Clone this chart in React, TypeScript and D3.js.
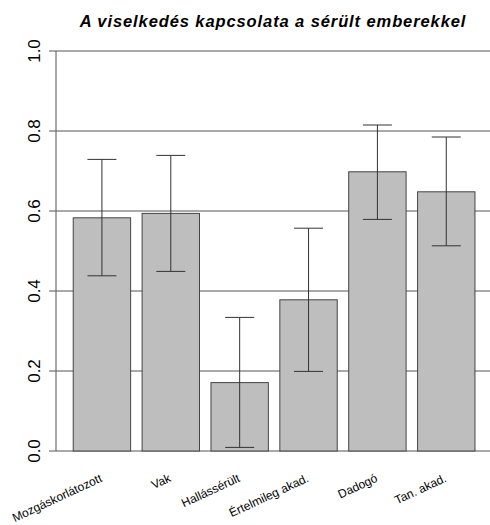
import React from "react";
import * as d3 from "d3";

const categories = ["Mozgáskorlátozott", "Vak", "Hallássérült", "Értelmileg akad.", "Dadogó", "Tan. akad."];
const means = [0.583, 0.594, 0.171, 0.378, 0.698, 0.648];
const lower = [0.438, 0.449, 0.009, 0.199, 0.579, 0.513];
const upper = [0.729, 0.739, 0.334, 0.557, 0.815, 0.785];
const yTicks = [0, 0.2, 0.4, 0.6, 0.8, 1.0];
const title = "A viselkedés kapcsolata a sérült emberekkel";

const W = 490;
const H = 525;

export default function App() {
  const y = d3.scaleLinear().domain([0, 1]).range([451, 51]);
  const x = d3
    .scaleBand<string>()
    .domain(categories)
    .range([60.6, 487.6])
    .paddingInner(1 / 6)
    .paddingOuter(1 / 6 / 2 + 0.1);
  const bw = x.bandwidth();
  const font = "'Liberation Sans', Arial, sans-serif";
  return (
    <svg
      width={W}
      height={H}
      style={{ position: "absolute", left: 0, top: 0, background: "#fff" }}
      fontFamily={font}
    >
      <text
        x={273}
        y={27}
        textAnchor="middle"
        fontSize={16.5}
        fontWeight="bold"
        fontStyle="italic"
        letterSpacing={0.9}
        fill="#000"
      >
        {title}
      </text>
      {yTicks.map((t) => (
        <line key={"g" + t} x1={49} x2={W} y1={y(t)} y2={y(t)} stroke="#555" strokeWidth={1} />
      ))}
      <line x1={56} x2={56} y1={y(1)} y2={y(0)} stroke="#555" strokeWidth={1} />
      {yTicks.map((t) => (
        <text
          key={"t" + t}
          transform={`translate(40,${y(t)}) rotate(-90)`}
          textAnchor="middle"
          fontSize={17}
          fill="#000"
        >
          {d3.format(".1f")(t)}
        </text>
      ))}
      {categories.map((c, i) => (
        <rect
          key={"b" + c}
          x={x(c)}
          y={y(means[i])}
          width={bw}
          height={y(0) - y(means[i])}
          fill="#bebebe"
          stroke="#444"
          strokeWidth={1}
        />
      ))}
      {categories.map((c, i) => {
        const cx = (x(c) as number) + bw / 2;
        return (
          <g key={"e" + c} stroke="#333" strokeWidth={1}>
            <line x1={cx} x2={cx} y1={y(upper[i])} y2={y(lower[i])} />
            <line x1={cx - 14.5} x2={cx + 14.5} y1={y(upper[i])} y2={y(upper[i])} />
            <line x1={cx - 14.5} x2={cx + 14.5} y1={y(lower[i])} y2={y(lower[i])} />
          </g>
        );
      })}
      {categories.map((c) => {
        const cx = (x(c) as number) + bw / 2;
        return (
          <text
            key={"l" + c}
            transform={`translate(${cx + 1},${481}) rotate(-25)`}
            textAnchor="end"
            fontSize={12}
            fill="#000"
          >
            {c}
          </text>
        );
      })}
    </svg>
  );
}
